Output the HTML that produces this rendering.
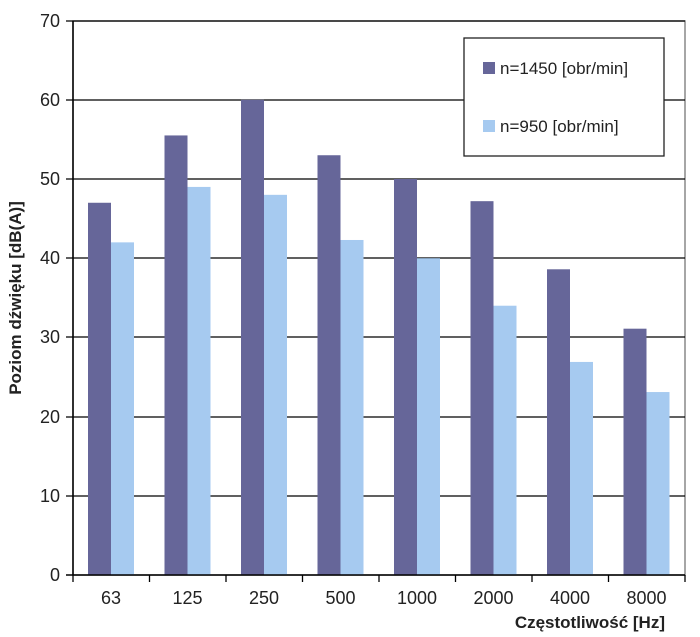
<!DOCTYPE html><html><head><style>body{margin:0;background:#fff}svg{display:block}text{font-family:"Liberation Sans",sans-serif}</style></head><body>
<svg width="700" height="637" viewBox="0 0 700 637">
<rect x="73" y="21" width="612" height="554" fill="none" stroke="#888" stroke-width="1.5"/>
<g stroke="#000" stroke-width="1.3">
<line x1="66" y1="21" x2="685" y2="21"/><line x1="66" y1="100" x2="685" y2="100"/><line x1="66" y1="179" x2="685" y2="179"/><line x1="66" y1="258" x2="685" y2="258"/><line x1="66" y1="337" x2="685" y2="337"/><line x1="66" y1="417" x2="685" y2="417"/><line x1="66" y1="496" x2="685" y2="496"/>
</g>
<g id="bars"></g>
<line x1="73" y1="21" x2="73" y2="575" stroke="#000" stroke-width="1.5"/>
<line x1="66" y1="575" x2="685" y2="575" stroke="#000" stroke-width="1.5"/>
<g font-size="18" fill="#222" text-anchor="end">
<text x="60" y="27">70</text><text x="60" y="106">60</text><text x="60" y="185">50</text><text x="60" y="264">40</text><text x="60" y="343">30</text><text x="60" y="423">20</text><text x="60" y="502">10</text><text x="60" y="581">0</text>
</g>
<text transform="translate(21,298) rotate(-90)" text-anchor="middle" font-size="17" font-weight="bold" fill="#222">Poziom dźwięku [dB(A)]</text>
<text x="665" y="628" text-anchor="end" font-size="17" font-weight="bold" fill="#222">Częstotliwość [Hz]</text>
<rect x="464" y="38" width="200" height="118" fill="#fff" stroke="#222" stroke-width="1.3"/>
<rect x="483" y="62" width="12" height="12" fill="#666699"/>
<text x="500" y="74" font-size="17" fill="#222">n=1450 [obr/min]</text>
<rect x="483" y="120" width="12" height="12" fill="#a6caf0"/>
<text x="500" y="132" font-size="17" fill="#222">n=950 [obr/min]</text>
<g id="xl" font-size="18" fill="#222" text-anchor="middle"></g>
<g id="tk" stroke="#000" stroke-width="1.3"></g>
<script>
var d=[[63,47,42],[125,55.5,49],[250,60,48],[500,53,42.3],[1000,50,40],[2000,47.2,34],[4000,38.6,26.9],[8000,31.1,23.1]];
var b=document.getElementById('bars'),xl=document.getElementById('xl'),tk=document.getElementById('tk'),ns='http://www.w3.org/2000/svg';
function el(t,a,p){var e=document.createElementNS(ns,t);for(var k in a)e.setAttribute(k,a[k]);p.appendChild(e);return e;}
d.forEach(function(r,i){var x0=73+i*76.5;var h1=r[1]*7.92,h2=r[2]*7.92;
el('rect',{x:x0+15,y:575-h1,width:23,height:h1,fill:'#666699'},b);
el('rect',{x:x0+38,y:575-h2,width:23,height:h2,fill:'#a6caf0'},b);
el('text',{x:x0+38,y:604},xl).textContent=r[0];
el('line',{x1:x0,y1:575,x2:x0,y2:582},tk);});
el('line',{x1:685,y1:575,x2:685,y2:582},tk);
</script>
</svg></body></html>
